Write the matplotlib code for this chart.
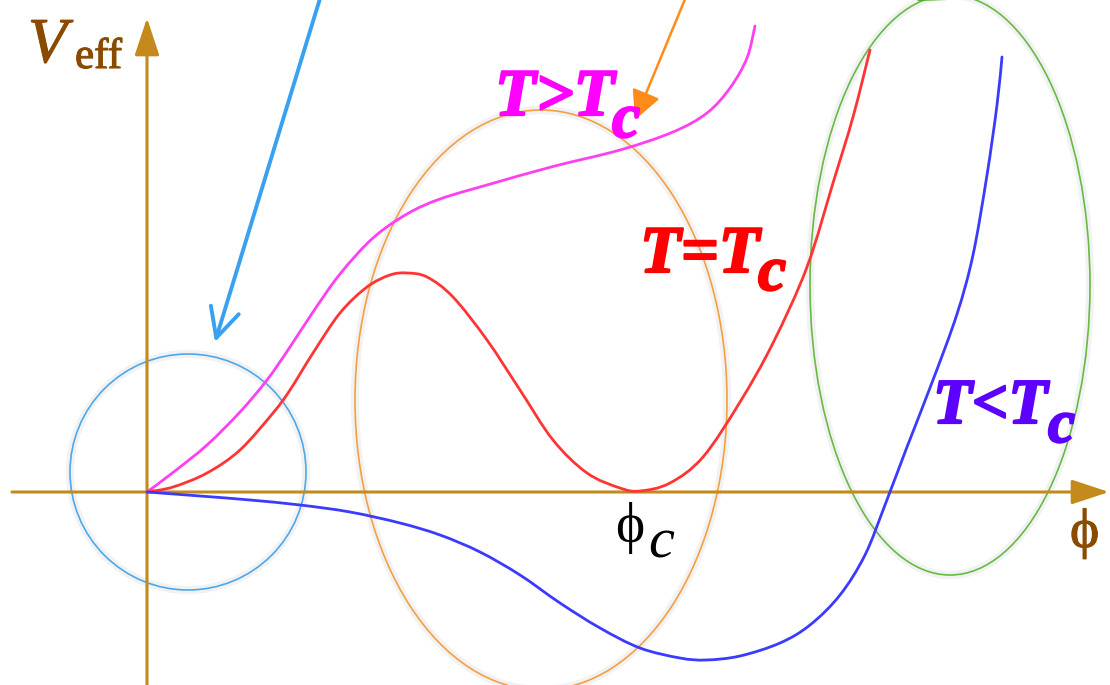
import matplotlib
matplotlib.use("Agg")
import numpy as np
import matplotlib.pyplot as plt
import matplotlib.patheffects as pe
from matplotlib.patches import Ellipse, PathPatch
from matplotlib.path import Path

# Effective potential V_eff(phi) for three temperatures (phi, V samples)
phi_hot = [0.00, 0.26, 0.60, 0.93, 1.20, 1.43, 1.66, 1.93, 2.26, 2.60, 2.93,
           3.40, 4.06, 4.73, 5.26, 5.60, 5.83, 6.00, 6.08]
v_hot = [0.00, 0.195, 0.47, 0.80, 1.12, 1.45, 1.80, 2.18, 2.54, 2.78, 2.93,
         3.07, 3.255, 3.42, 3.60, 3.79, 4.04, 4.34, 4.66]

phi_crit = [0.00, 0.26, 0.60, 0.93, 1.26, 1.43, 1.66, 1.93, 2.20, 2.43, 2.60,
            2.80, 3.06, 3.40, 3.73, 4.06, 4.40, 4.73, 4.93, 5.23, 5.56, 5.93,
            6.26, 6.60, 6.86, 7.06, 7.23]
v_crit = [0.00, 0.05, 0.19, 0.42, 0.79, 1.02, 1.39, 1.79, 2.05, 2.17, 2.19,
          2.15, 1.95, 1.52, 1.02, 0.52, 0.19, 0.04, 0.01, 0.09, 0.35, 0.90,
          1.49, 2.25, 3.09, 3.75, 4.42]

phi_cold = [0.00, 0.53, 1.03, 1.53, 2.03, 2.53, 2.93, 3.33, 3.73, 4.13, 4.53,
            4.93, 5.33, 5.59, 5.93, 6.33, 6.63, 6.93, 7.18, 7.38, 7.60, 7.86,
            8.10, 8.26, 8.40, 8.50, 8.55]
v_cold = [0.00, -0.04, -0.08, -0.13, -0.20, -0.31, -0.43, -0.60, -0.83, -1.11,
          -1.36, -1.56, -1.66, -1.68, -1.64, -1.51, -1.33, -1.03, -0.63, -0.13,
          0.45, 1.12, 1.78, 2.37, 3.17, 3.87, 4.35]


def smooth_path(xs, ys):
    """Catmull-Rom style cubic Bezier path through the given samples."""
    p = np.column_stack([xs, ys]).astype(float)
    n = len(p)
    verts = [p[0]]
    codes = [Path.MOVETO]
    for i in range(n - 1):
        p0 = p[i - 1] if i > 0 else p[i]
        p1, p2 = p[i], p[i + 1]
        p3 = p[i + 2] if i + 2 < n else p[i + 1]
        c1 = p1 + (p2 - p0) / 6.0
        c2 = p2 - (p3 - p1) / 6.0
        verts += [c1, c2, p2]
        codes += [Path.CURVE4] * 3
    return Path(verts, codes)


fig = plt.figure(figsize=(11.1, 6.85), dpi=100)
ax = fig.add_axes([0, 0, 1, 1])
ax.set_xlim(-1.47, 9.63)
ax.set_ylim(-1.93, 4.92)
ax.set_aspect("equal")
ax.axis("off")

axis_col = "#c48a1c"
brown = "#8a4a00"

# coordinate axes with arrow heads
for start, end in [((-1.35, 0), (9.62, 0)), ((0, -1.93), (0, 4.74))]:
    ax.annotate("", xy=end, xytext=start,
                arrowprops=dict(arrowstyle="-|>,head_length=1.15,head_width=0.38",
                                mutation_scale=20, color=axis_col, lw=2.2,
                                shrinkA=0, shrinkB=0))

# highlight ellipses (with faint shadow)
rings = [((0.41, 0.20), 2.36, 2.36, "#4ca8ec"),
         ((3.94, 0.92), 3.72, 5.80, "#f5a040"),
         ((8.03, 2.07), 2.80, 5.80, "#66bb44")]
for (cx, cy), w, h, col in rings:
    ax.add_patch(Ellipse((cx, cy), w, h, fill=False, ec="#000000",
                         lw=6, alpha=0.05, zorder=1))
    ax.add_patch(Ellipse((cx, cy), w, h, fill=False, ec=col, lw=1.2, zorder=2))

# potential curves
for xs, ys, col in [(phi_hot, v_hot, "#ff40f0"),
                    (phi_crit, v_crit, "#ff3535"),
                    (phi_cold, v_cold, "#3b3bff")]:
    ax.add_patch(PathPatch(smooth_path(xs, ys), fill=False, ec=col, lw=2.0,
                           capstyle="round", joinstyle="round", zorder=3))

# pointer arrows
ax.annotate("", xy=(0.68, 1.50), xytext=(1.75, 5.0),
            arrowprops=dict(arrowstyle="->,head_length=0.7,head_width=0.35",
                            mutation_scale=30, color="#3aa0f0", lw=2.8,
                            shrinkA=0, shrinkB=0), annotation_clip=False)
ax.annotate("", xy=(4.88, 3.72), xytext=(5.41, 5.0),
            arrowprops=dict(arrowstyle="-|>,head_length=0.6,head_width=0.3",
                            mutation_scale=30, color="#ff8c1a", lw=1.8,
                            shrinkA=0, shrinkB=0), annotation_clip=False)
ax.annotate("", xy=(8.02, 4.92), xytext=(7.2, 5.3),
            arrowprops=dict(arrowstyle="-|>,head_length=0.6,head_width=0.3",
                            mutation_scale=30, color="#44aa22", lw=1.8,
                            shrinkA=0, shrinkB=0), annotation_clip=False)

serif = ["Liberation Serif", "DejaVu Serif"]


def label(x, y, main, sub, xs, ys, color, size):
    fx = [pe.withStroke(linewidth=1.6, foreground=color)]
    ax.text(x, y, main, color=color, fontsize=size, family=serif,
            weight="bold", style="italic", ha="left", va="baseline",
            zorder=5, path_effects=fx)
    ax.text(xs, ys, sub, color=color, fontsize=size * 0.95, family=serif,
            weight="bold", style="italic", ha="left", va="baseline",
            zorder=5, path_effects=fx)


thin = [pe.withStroke(linewidth=0.8, foreground=brown)]
# axis titles
ax.text(-1.19, 4.30, "V", color=brown, fontsize=46, family=serif,
        style="italic", ha="left", va="baseline", path_effects=thin)
ax.text(-0.72, 4.24, "eff", color=brown, fontsize=31, family=serif,
        ha="left", va="baseline", path_effects=thin)
ax.text(9.23, -0.55, "\u03d5", color=brown, fontsize=40, family=serif,
        ha="left", va="baseline", path_effects=thin)

# phi_c marker
ax.text(4.68, -0.50, "\u03d5", color="black", fontsize=40, family=serif,
        ha="left", va="baseline")
ax.text(5.01, -0.65, "c", color="black", fontsize=42, family=serif,
        style="italic", ha="left", va="baseline")

# temperature labels
label(3.48, 3.77, "T>T", "c", 4.65, 3.55, "#ff00ff", 48)
label(4.93, 2.20, "T=T", "c", 6.11, 2.02, "#ff0000", 48)
label(7.86, 0.69, "T<T", "c", 9.01, 0.50, "#5c00ff", 46)

fig.savefig("out.png", dpi=100)
